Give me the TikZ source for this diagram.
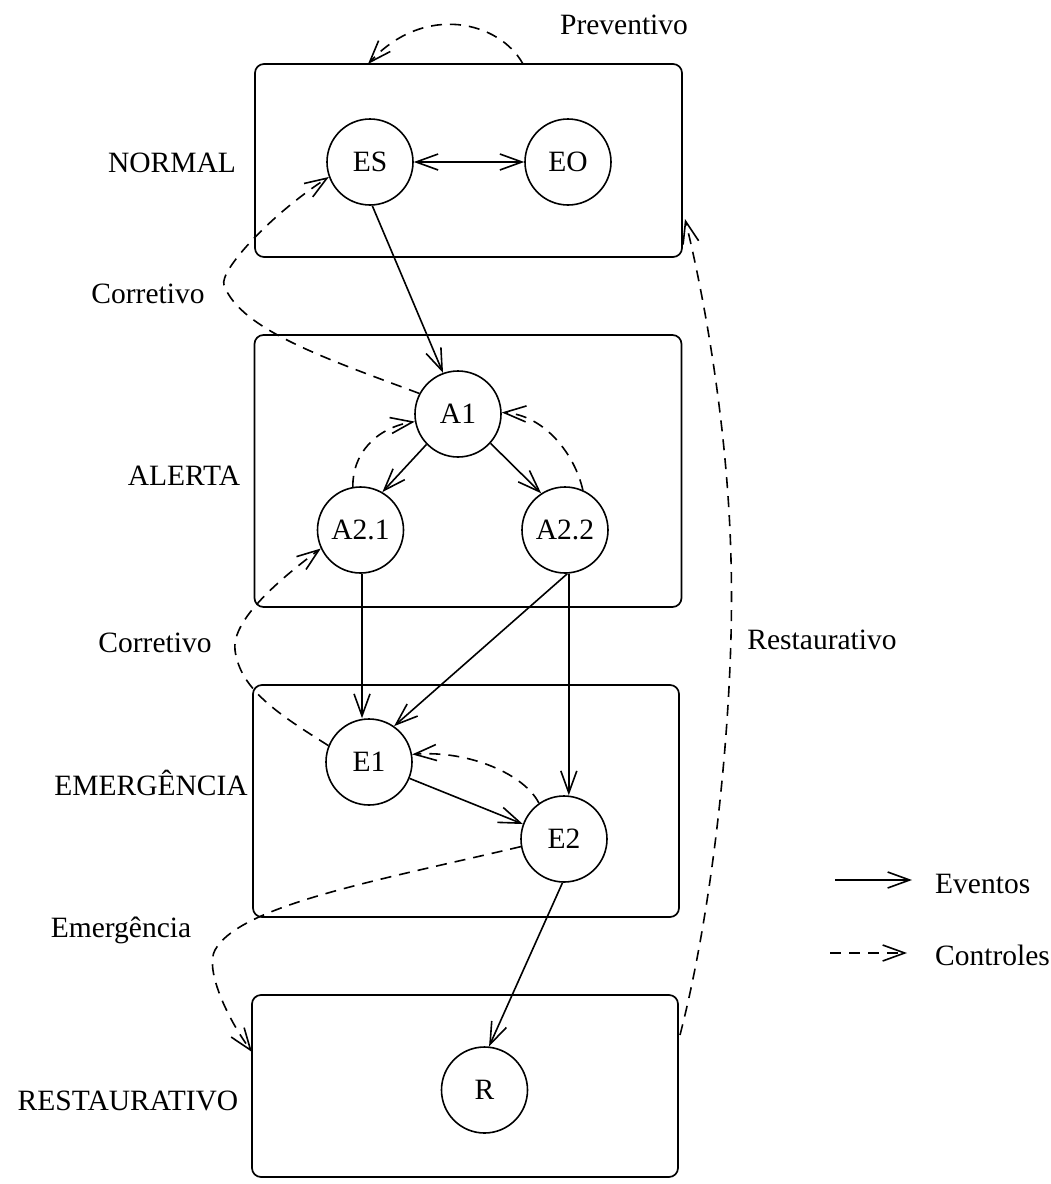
\documentclass[tikz,border=0pt]{standalone}
\usepackage{fontspec}
\setmainfont{Liberation Serif}
\usetikzlibrary{arrows.meta}
\begin{document}
\begin{tikzpicture}[x=1pt,y=-1pt,
  every node/.style={font=\fontsize{29.5}{34}\selectfont},
  st/.style={draw, circle, minimum size=86pt, inner sep=0pt, line width=1.6pt},
  region/.style={draw, rounded corners=9pt, line width=1.7pt, inner sep=0pt},
  tip/.style={},
  ev/.style={line width=1.6pt, -{Straight Barb[length=22pt,width=16pt,line width=1.6pt]}},
  evboth/.style={line width=1.6pt, {Straight Barb[length=22pt,width=16pt,line width=1.6pt]}-{Straight Barb[length=22pt,width=16pt,line width=1.6pt]}},
  ctl/.style={ev, dash pattern=on 11pt off 8pt},
  lbl/.style={inner sep=0pt}]
\useasboundingbox (0,0) rectangle (1051,1184);

% regions
\node[region, minimum width=427pt, minimum height=193pt] (normal) at (468.5,160.5) {};
\node[region, minimum width=427pt, minimum height=272pt] (alerta) at (468,471) {};
\node[region, minimum width=426pt, minimum height=232pt] (emerg) at (466,801) {};
\node[region, minimum width=426pt, minimum height=182pt] (rest) at (465,1086) {};

% region labels
\node[lbl] (lnormal) at (172,163) {NORMAL};
\node[lbl] (lalerta) at (184,476) {ALERTA};
\node[lbl] (lemerg) at (151,783) {EMERGÊNCIA};
\node[lbl] (lrest) at (128,1101) {RESTAURATIVO};

% states
\node[st] (ES) at (370,162) {ES};
\node[st] (EO) at (568,162) {EO};
\node[st] (A1) at (458,414) {A1};
\node[st] (A21) at (360.5,530) {A2.1};
\node[st] (A22) at (565,530) {A2.2};
\node[st] (E1) at (369,762) {E1};
\node[st] (E2) at (564,839) {E2};
\node[st] (R) at (484.5,1090) {R};

% events
\draw[evboth] (ES) -- (EO);
\draw[ev] (ES.-87) -- (A1.110);
\draw[ev] (A1.224) -- (A21.60.5);
\draw[ev] (A1.-42) -- (A22.123);
\draw[ev] (A21.-88) -- (A21.-88 |- E1.north);
\draw[ev] (A22.-87) -- (E1.55);
\draw[ev] (A22.-85) -- (A22.-85 |- E2.north);
\draw[ev] (E1.-22) -- (E2.160);
\draw[ev] (E2.-92) -- (R.84);

% controls
\draw[ctl] (A21.100) .. controls (352,455) and (375,428) .. (A1.190);
\draw[ctl] (A22.66) .. controls (575,455) and (545,415) .. (A1.2);
\draw[ctl] (E2.125) .. controls (525,775) and (470,750) .. (E1.10);

% Corretivo (A1 -> ES)
\draw[ctl] (A1.152) .. controls (330,360) and (240,330) .. (224,285)
  .. controls (219,271) and (270,215) .. (ES.200);
% Corretivo (E1 -> A2.1)
\draw[ctl] (E1.158) .. controls (280,715) and (240,690) .. (235,650)
  .. controls (232,625) and (265,590) .. (A21.205);

% Emergencia (E2 -> restaurativo)
\coordinate (emtip) at (252,1052);
\draw[ctl] (E2.190) .. controls (380,880) and (240,905) .. (215,950)
  .. controls (205,968) and (225,1015) .. (emtip);

% Restaurativo (restaurativo -> normal)
\coordinate (rstart) at (680,1035);
\coordinate (rtip) at (685,219);
\draw[ctl] (rstart) .. controls (715,900) and (735,700) .. (731,560)
  .. controls (728,430) and (705,300) .. (rtip);

% Preventivo (normal -> normal)
\coordinate (pstart) at (523,64);
\coordinate (ptip) at (368,64);
\draw[ctl] (pstart) .. controls (500,22) and (425,2) .. (ptip);

% control labels
\node[lbl] (lprev) at (624,25) {Preventivo};
\node[lbl] (lcor1) at (148,294) {Corretivo};
\node[lbl] (lcor2) at (155,643) {Corretivo};
\node[lbl] (lrestc) at (822,640) {Restaurativo};
\node[lbl] (lemc) at (121,930) {Emergência};

% legend
\coordinate (ev1) at (835,880);
\coordinate (ev2) at (912,880);
\draw[ev] (ev1) -- (ev2);
\node[lbl, anchor=west] (leven) at (935,884) {Eventos};
\coordinate (ct1) at (830,953);
\coordinate (ct2) at (907,953);
\draw[ctl] (ct1) -- (ct2);
\node[lbl, anchor=west] (lctl) at (935,955) {Controles};
\end{tikzpicture}
\end{document}
